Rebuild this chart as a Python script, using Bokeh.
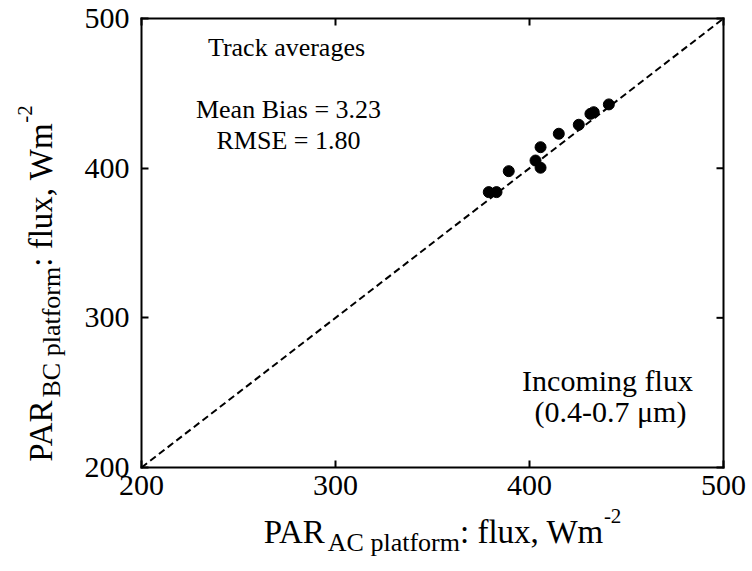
import math
from bokeh.plotting import figure
from bokeh.models import Range1d, FixedTicker, Label
from bokeh.core.properties import value
from bokeh.embed import file_html
from bokeh.resources import INLINE

# Track-averaged PAR flux: AC platform (x) vs BC platform (y), W m^-2
par_ac = [379.0, 383.0, 389.3, 403.1, 405.7, 405.7, 415.1, 425.4, 431.4, 433.1, 440.9]
par_bc = [384.0, 384.0, 398.0, 405.1, 400.3, 414.0, 423.0, 429.0, 436.3, 437.4, 442.6]

# 1:1 reference line
one_to_one = [200, 500]

tick_values = [200, 300, 400, 500]

stats_title = "Track averages"
stats_lines = ["Mean Bias = 3.23", "RMSE = 1.80"]
band_lines = ["Incoming flux", "(0.4-0.7 \u03bcm)"]

FONT = "Liberation Serif"
W, H = 752, 571
# pixel box of the axes inside the page
BOX_L, BOX_R, BOX_T, BOX_B = 141, 723, 18, 467
LO, HI = 200, 500
sx_unit = (BOX_R - BOX_L) / (HI - LO)
sy_unit = (BOX_B - BOX_T) / (HI - LO)
XS, XE = LO - BOX_L / sx_unit, HI + (W - BOX_R) / sx_unit
YS, YE = LO - (H - BOX_B) / sy_unit, HI + BOX_T / sy_unit
TICK_PX = 7

p = figure(width=W, height=H, output_backend="svg", toolbar_location=None,
           x_range=Range1d(XS, XE), y_range=Range1d(YS, YE),
           min_border=0, min_border_left=0, min_border_right=0,
           min_border_top=0, min_border_bottom=0,
           background_fill_color="white", border_fill_color="white")
p.grid.visible = False
p.outline_line_color = None

def style_axis(ax, standoff):
    ax.fixed_location = LO
    ax.bounds = (LO, HI)
    ax.ticker = FixedTicker(ticks=tick_values)
    ax.axis_line_color = "black"
    ax.axis_line_width = 2
    ax.axis_line_cap = "square"
    ax.major_tick_line_color = "black"
    ax.major_tick_line_width = 2
    ax.major_tick_in = TICK_PX
    ax.major_tick_out = 0
    ax.minor_tick_line_color = None
    ax.major_label_text_font = FONT
    ax.major_label_text_color = "black"
    ax.major_label_text_font_size = "30px"
    ax.major_label_standoff = standoff

style_axis(p.xaxis[0], 8)
style_axis(p.yaxis[0], 12)

# closing box edges with inward ticks on top and right
n = len(tick_values)
p.line([LO, HI], [HI, HI], line_color="black", line_width=2, line_cap="square")
p.line([HI, HI], [LO, HI], line_color="black", line_width=2, line_cap="square")
p.segment(x0=tick_values, y0=[HI] * n, x1=tick_values, y1=[HI - TICK_PX / sy_unit] * n,
          line_color="black", line_width=2)
p.segment(x0=[HI] * n, y0=tick_values, x1=[HI - TICK_PX / sx_unit] * n, y1=tick_values,
          line_color="black", line_width=2)

# 1:1 line and the track averages
p.line(one_to_one, one_to_one, line_color="black", line_width=2, line_dash="7 4")
p.scatter(par_ac, par_bc, size=11, marker="circle", fill_color="black", line_color="black")

def tx(px):
    return XS + px / W * (XE - XS)

def ty(py):
    return YE - py / H * (YE - YS)

ann_font = value(FONT)
p.text(x=[tx(286)], y=[ty(47)], text=[stats_title], text_font=ann_font,
       text_font_size=value("26px"), text_align="center", text_baseline="alphabetic", text_color="black")
p.text(x=[tx(288), tx(288)], y=[ty(109), ty(140)], text=stats_lines, text_font=ann_font,
       text_font_size=value("26px"), text_align="center", text_baseline="alphabetic", text_color="black")
p.text(x=[tx(607), tx(610)], y=[ty(380), ty(411)], text=band_lines, text_font=ann_font,
       text_font_size=value("30px"), text_align="center", text_baseline="alphabetic", text_color="black")

# Axis titles with sub/superscripts, assembled from pieces (Times advance widths)
ADV = {" ": 250, "P": 556, "A": 722, "R": 667, "C": 667, "B": 667, "W": 944,
       "a": 444, "f": 333, "l": 278, "m": 778, "o": 500, "p": 500, "r": 333,
       "t": 278, "u": 500, "x": 500, ":": 278, ",": 250, "-": 333, "2": 500}

def tw(s, size):
    return sum(ADV.get(c, 500) for c in s) / 1000.0 * size

MAIN, SUB, SUP = 33, 26, 21

def title_pieces(sub_text):
    return [("PAR", MAIN, 0), (sub_text, SUB, 11), (": flux, Wm", MAIN, 0), ("-2", SUP, -16)]

def add_piece(text, size, px, py, angle=0.0):
    p.add_layout(Label(x=tx(px), y=ty(py), text=text, angle=angle,
                       text_font=FONT, text_font_size=f"{size}px", text_color="black",
                       text_align="left", text_baseline="alphabetic"))

# x title
pieces = title_pieces("AC platform")
total = sum(tw(t, s) for t, s, _ in pieces)
cx, base = 442, 531
px = cx - total / 2
for t, s, shift in pieces:
    add_piece(t, s, px, base + shift)
    px += tw(t, s)

# y title, rotated to read upward
pieces = title_pieces("BC platform")
total = sum(tw(t, s) for t, s, _ in pieces)
cy, base = 283, 40
py = cy + total / 2
for t, s, shift in pieces:
    add_piece(t, s, base + shift, py, angle=math.pi / 2)
    py -= tw(t, s)

open("out.html", "w").write(file_html(p, INLINE))
